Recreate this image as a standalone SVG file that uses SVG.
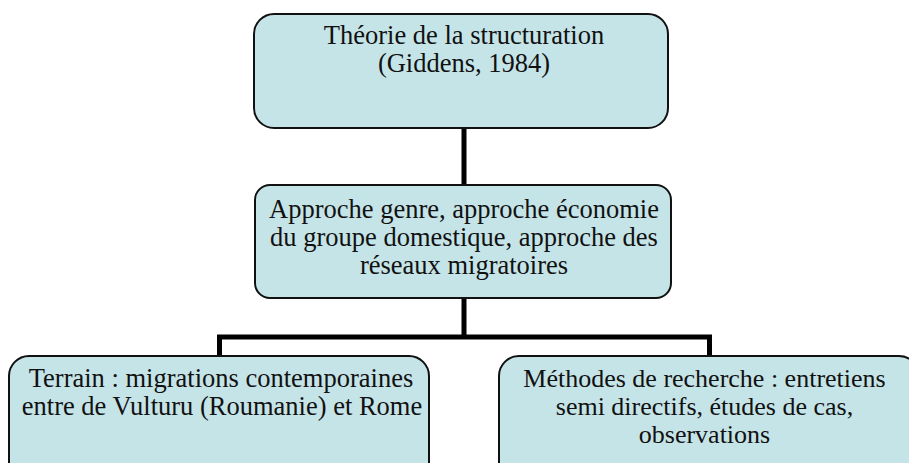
<svg xmlns="http://www.w3.org/2000/svg" width="909" height="463" viewBox="0 0 909 463">
<style>
.box{fill:#c5e4e8;stroke:#111;stroke-width:2}
.t{font-family:"Liberation Serif","Times New Roman",serif;font-size:26.5px;fill:#111;text-anchor:middle}
.s{font-size:26px}
.c{fill:none;stroke:#000;stroke-width:5;stroke-linejoin:miter}
</style>
<rect width="909" height="463" fill="#fff"/>
<g id="connectors">
<path class="c" d="M464,128 V185"/>
<path class="c" d="M464,298 V337"/>
<path class="c" d="M219.5,356 V337 H709.5 V356"/>
</g>
<g id="n1">
<rect class="box" x="254" y="14" width="414" height="114" rx="20"/>
<text class="t" x="464" y="44">Théorie de la structuration</text>
<text class="t" x="464" y="72">(Giddens, 1984)</text>
</g>
<g id="n2">
<rect class="box" x="255" y="185" width="416" height="113" rx="15"/>
<text class="t" x="464" y="218">Approche genre, approche économie</text>
<text class="t" x="464" y="246">du groupe domestique, approche des</text>
<text class="t" x="464" y="274">réseaux migratoires</text>
</g>
<g id="n3">
<rect class="box" x="9" y="356" width="420" height="130" rx="20"/>
<text class="t" x="221" y="387">Terrain : migrations contemporaines</text>
<text class="t" x="222" y="415">entre de Vulturu (Roumanie) et Rome</text>
</g>
<g id="n4">
<rect class="box" x="499" y="356" width="420" height="130" rx="20"/>
<text class="t s" x="704.5" y="387">Méthodes de recherche : entretiens</text>
<text class="t s" x="704.5" y="415">semi directifs, études de cas,</text>
<text class="t s" x="704.5" y="443">observations</text>
</g>
</svg>
